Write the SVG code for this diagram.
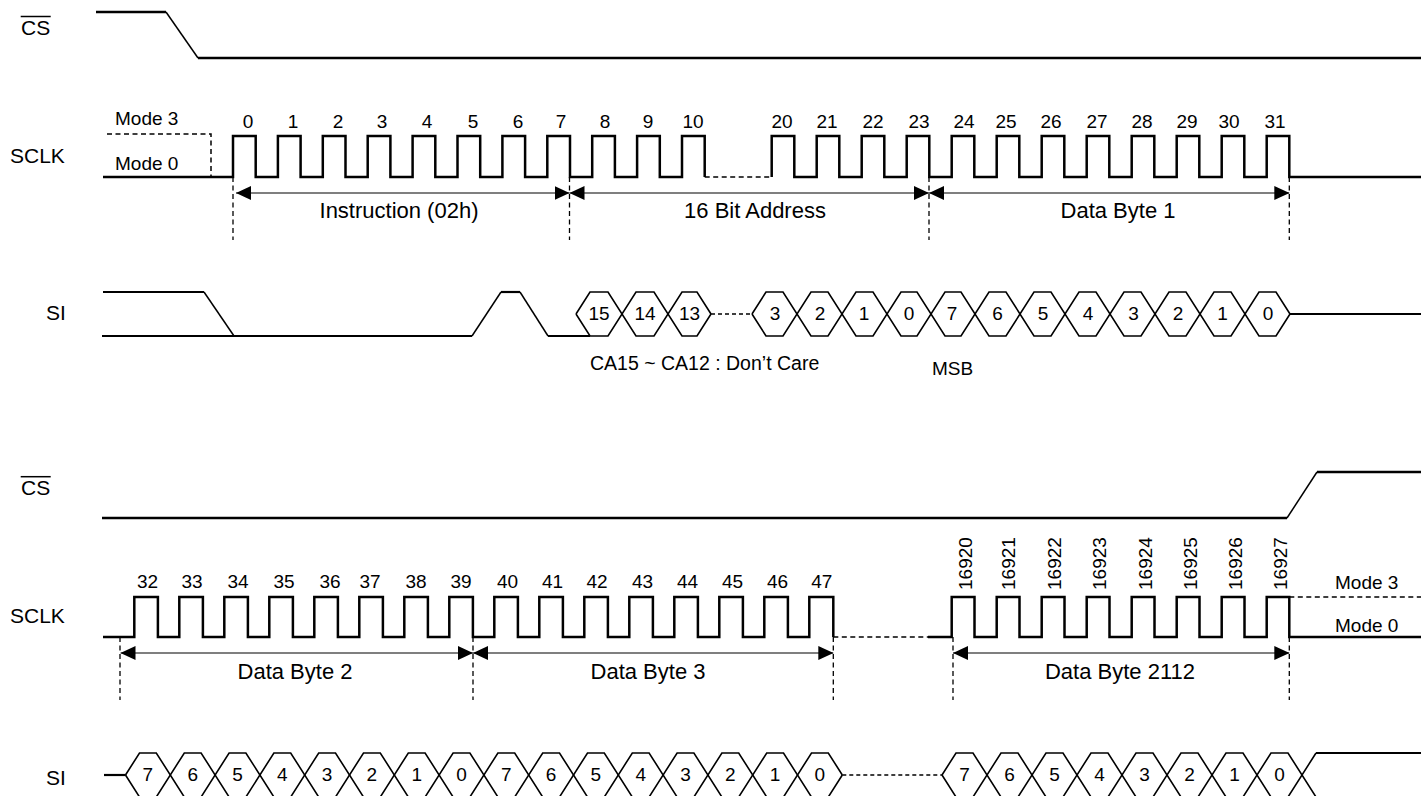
<svg xmlns="http://www.w3.org/2000/svg" width="1421" height="796" viewBox="0 0 1421 796">
<style>
text{font-family:"Liberation Sans",Arial,Helvetica,sans-serif;fill:#000}
.lbl{font-size:21px}
.big{font-size:22px;text-anchor:middle}
.num{font-size:19px;text-anchor:middle}
.md{font-size:19px}
.w{stroke:#000;stroke-width:2.5;fill:none}
.sl{stroke:#000;stroke-width:1.5;fill:none}
.hx{stroke:#000;stroke-width:1.6;fill:none}
.dv{stroke:#000;stroke-width:1.3;stroke-dasharray:5 3.5;fill:none}
.dh{stroke:#000;stroke-width:1.5;stroke-dasharray:5 3.5;fill:none}
.ds{stroke:#000;stroke-width:1.4;stroke-dasharray:4 3;fill:none}
.ov{stroke:#000;stroke-width:1.5}
.ar{stroke:#555;stroke-width:1.6;fill:none;marker-start:url(#ah);marker-end:url(#ah)}
</style>
<defs>
<marker id="ah" viewBox="0 0 15 14" refX="15" refY="7" markerWidth="15" markerHeight="14" markerUnits="userSpaceOnUse" orient="auto-start-reverse"><path d="M0,0 L15,7 L0,14 Z" fill="#000"/></marker>
</defs>

<!-- ===== TOP SECTION ===== -->
<g id="cs-top">
<text class="lbl" x="21" y="35">CS</text>
<line class="ov" x1="20.7" y1="16.5" x2="50.7" y2="16.5"/>
<path class="w" d="M96,12 H166"/>
<path class="sl" d="M166,12 L198,58"/>
<path class="w" d="M198,58 H1421"/>
</g>

<g id="sclk-top">
<text class="lbl" x="10" y="163">SCLK</text>
<text class="md" x="115" y="125">Mode 3</text>
<text class="md" x="115" y="170">Mode 0</text>
<path class="dh" d="M107,134 H211 V177"/>
<path class="w" d="M103,177 H233 V136 H255.7 V177 H277.9 V136 H300.6 V177 H322.8 V136 H345.5 V177 H367.7 V136 H390.4 V177 H412.6 V136 H435.3 V177 H457.5 V136 H480.2 V177 H502.4 V136 H525.1 V177 H547.3 V136 H570 V177 H592.2 V136 H614.9 V177 H637.1 V136 H659.8 V177 H682 V136 H704.7 V177"/>
<path class="dh" d="M704.7,177 H771.7"/>
<path class="w" d="M771.7,177 V136 H794.3 V177 H816.7 V136 H839.3 V177 H861.7 V136 H884.3 V177 H906.7 V136 H929.3 V177 H951.7 V136 H974.3 V177 H996.7 V136 H1019.3 V177 H1041.7 V136 H1064.3 V177 H1086.7 V136 H1109.3 V177 H1131.7 V136 H1154.3 V177 H1176.7 V136 H1199.3 V177 H1221.7 V136 H1244.3 V177 H1266.7 V136 H1289.3 V177 H1421"/>
<text class="num" x="248" y="128">0</text>
<text class="num" x="293" y="128">1</text>
<text class="num" x="338" y="128">2</text>
<text class="num" x="382" y="128">3</text>
<text class="num" x="427" y="128">4</text>
<text class="num" x="473" y="128">5</text>
<text class="num" x="518" y="128">6</text>
<text class="num" x="561" y="128">7</text>
<text class="num" x="605" y="128">8</text>
<text class="num" x="648" y="128">9</text>
<text class="num" x="693" y="128">10</text>
<text class="num" x="782" y="128">20</text>
<text class="num" x="827" y="128">21</text>
<text class="num" x="873" y="128">22</text>
<text class="num" x="919" y="128">23</text>
<text class="num" x="964" y="128">24</text>
<text class="num" x="1006" y="128">25</text>
<text class="num" x="1051" y="128">26</text>
<text class="num" x="1097" y="128">27</text>
<text class="num" x="1142" y="128">28</text>
<text class="num" x="1187" y="128">29</text>
<text class="num" x="1229" y="128">30</text>
<text class="num" x="1275" y="128">31</text>
</g>

<g id="si-top">
<text class="lbl" x="46" y="320">SI</text>
<path class="w" d="M103,292 H204" style="stroke-width:2.2"/>
<path class="sl" d="M204,292 L234,336"/>
<path class="w" d="M102,336 H472" style="stroke-width:2.2"/>
<path class="sl" d="M472,336 L501,292"/>
<path class="w" d="M501,292 H520" style="stroke-width:2.2"/>
<path class="sl" d="M520,292 L548,336"/>
<path class="w" d="M548,336 H590" style="stroke-width:2.2"/>
<path class="hx" d="M576,314 L590,292 H608 L636,336 H654 L682,292 H697 L711,314"/>
<path class="hx" d="M576,314 L590,336 H608 L636,292 H654 L682,336 H697 L711,314"/>
<path class="ds" d="M711,314 H752"/>
<path class="hx" d="M752,314 L766,292 H783 L811,336 H828 L856,292 H873 L901,336 H917 L945,292 H961 L989,336 H1006 L1034,292 H1051 L1079,336 H1096 L1124,292 H1141 L1169,336 H1186 L1214,292 H1231 L1259,336 H1276 L1290,314"/>
<path class="hx" d="M752,314 L766,336 H783 L811,292 H828 L856,336 H873 L901,292 H917 L945,336 H961 L989,292 H1006 L1034,336 H1051 L1079,292 H1096 L1124,336 H1141 L1169,292 H1186 L1214,336 H1231 L1259,292 H1276 L1290,314"/>
<path class="w" d="M1290,314 H1421" style="stroke-width:2.2"/>
<text class="num" x="599" y="320">15</text>
<text class="num" x="645" y="320">14</text>
<text class="num" x="689.5" y="320">13</text>
<text class="num" x="775" y="320">3</text>
<text class="num" x="820" y="320">2</text>
<text class="num" x="864" y="320">1</text>
<text class="num" x="909" y="320">0</text>
<text class="num" x="952" y="320">7</text>
<text class="num" x="997.5" y="320">6</text>
<text class="num" x="1043" y="320">5</text>
<text class="num" x="1088" y="320">4</text>
<text class="num" x="1133.5" y="320">3</text>
<text class="num" x="1178" y="320">2</text>
<text class="num" x="1222.5" y="320">1</text>
<text class="num" x="1268" y="320">0</text>
<text class="md" x="590" y="370" style="font-size:19.5px">CA15 ~ CA12 : Don’t Care</text>
<text class="md" x="932" y="375">MSB</text>
</g>

<!-- ===== BOTTOM SECTION ===== -->
<g id="cs-bottom">
<text class="lbl" x="21" y="495">CS</text>
<line class="ov" x1="20.7" y1="476.7" x2="50.7" y2="476.7"/>
<path class="w" d="M102,518 H1287"/>
<path class="sl" d="M1287,518 L1317,472"/>
<path class="w" d="M1317,472 H1421"/>
</g>

<g id="sclk-bottom">
<text class="lbl" x="10" y="623">SCLK</text>
<path class="w" d="M103,637 H134.3 V597 H157.9 V637 H179.3 V597 H202.9 V637 H224.3 V597 H247.9 V637 H269.3 V597 H292.9 V637 H314.3 V597 H337.9 V637 H359.3 V597 H382.9 V637 H404.3 V597 H427.9 V637 H449.3 V597 H472.9 V637 H494.3 V597 H517.9 V637 H539.3 V597 H562.9 V637 H584.3 V597 H607.9 V637 H629.3 V597 H652.9 V637 H674.3 V597 H697.9 V637 H719.3 V597 H742.9 V637 H764.3 V597 H787.9 V637 H809.3 V597 H833.3 V637"/>
<path class="dh" d="M833.3,637 H928"/>
<path class="w" d="M928,637 H951.7 V597 H974.5 V637 H996.7 V597 H1019.5 V637 H1041.7 V597 H1064.5 V637 H1086.7 V597 H1109.5 V637 H1131.7 V597 H1154.5 V637 H1176.7 V597 H1199.5 V637 H1221.7 V597 H1244.5 V637 H1266.7 V597 H1289.3 V637 H1421"/>
<path class="dh" d="M1289.3,597 H1421"/>
<text class="md" x="1335" y="589">Mode 3</text>
<text class="md" x="1335" y="632">Mode 0</text>
<text class="num" x="147.5" y="588">32</text>
<text class="num" x="192" y="588">33</text>
<text class="num" x="238" y="588">34</text>
<text class="num" x="284" y="588">35</text>
<text class="num" x="330" y="588">36</text>
<text class="num" x="370" y="588">37</text>
<text class="num" x="416" y="588">38</text>
<text class="num" x="461" y="588">39</text>
<text class="num" x="507.5" y="588">40</text>
<text class="num" x="552.5" y="588">41</text>
<text class="num" x="597" y="588">42</text>
<text class="num" x="642.5" y="588">43</text>
<text class="num" x="687.5" y="588">44</text>
<text class="num" x="732.5" y="588">45</text>
<text class="num" x="777.5" y="588">46</text>
<text class="num" x="821.7" y="588">47</text>
<text class="md" transform="translate(971.7,590) rotate(-90)">16920</text>
<text class="md" transform="translate(1015,590) rotate(-90)">16921</text>
<text class="md" transform="translate(1061,590) rotate(-90)">16922</text>
<text class="md" transform="translate(1106,590) rotate(-90)">16923</text>
<text class="md" transform="translate(1151.7,590) rotate(-90)">16924</text>
<text class="md" transform="translate(1196.7,590) rotate(-90)">16925</text>
<text class="md" transform="translate(1241.7,590) rotate(-90)">16926</text>
<text class="md" transform="translate(1286.7,590) rotate(-90)">16927</text>
</g>

<g id="si-bottom">
<text class="lbl" x="46" y="785">SI</text>
<path class="w" d="M104,775 H125.5" style="stroke-width:2.2"/>
<path class="hx" d="M125.5,775 L139.5,753 H156.3 L184.3,797 H201.1 L229.1,753 H245.9 L273.9,797 H290.7 L318.7,753 H335.5 L363.5,797 H380.3 L408.3,753 H425.1 L453.1,797 H469.9 L497.9,753 H514.7 L542.7,797 H559.5 L587.5,753 H604.3 L632.3,797 H649.1 L677.1,753 H693.9 L721.9,797 H738.7 L766.7,753 H783.5 L811.5,797 H828.3 L842.3,775"/>
<path class="hx" d="M125.5,775 L139.5,797 H156.3 L184.3,753 H201.1 L229.1,797 H245.9 L273.9,753 H290.7 L318.7,797 H335.5 L363.5,753 H380.3 L408.3,797 H425.1 L453.1,753 H469.9 L497.9,797 H514.7 L542.7,753 H559.5 L587.5,797 H604.3 L632.3,753 H649.1 L677.1,797 H693.9 L721.9,753 H738.7 L766.7,797 H783.5 L811.5,753 H828.3 L842.3,775"/>
<path class="ds" d="M842.3,775 H942"/>
<path class="hx" d="M942,775 L956,753 H973 L1001,797 H1018 L1046,753 H1063 L1091,797 H1108 L1136,753 H1153 L1181,797 H1198 L1226,753 H1243 L1271,797 H1288 L1316,753"/>
<path class="hx" d="M942,775 L956,797 H973 L1001,753 H1018 L1046,797 H1063 L1091,753 H1108 L1136,797 H1153 L1181,753 H1198 L1226,797 H1243 L1271,753 H1288 L1316,797 H1421"/>
<path class="w" d="M1316,753 H1421" style="stroke-width:2.2"/>
<text class="num" x="147.9" y="781">7</text>
<text class="num" x="192.7" y="781">6</text>
<text class="num" x="237.5" y="781">5</text>
<text class="num" x="282.3" y="781">4</text>
<text class="num" x="327.1" y="781">3</text>
<text class="num" x="371.9" y="781">2</text>
<text class="num" x="416.7" y="781">1</text>
<text class="num" x="461.5" y="781">0</text>
<text class="num" x="506.3" y="781">7</text>
<text class="num" x="551.1" y="781">6</text>
<text class="num" x="595.9" y="781">5</text>
<text class="num" x="640.7" y="781">4</text>
<text class="num" x="685.5" y="781">3</text>
<text class="num" x="730.3" y="781">2</text>
<text class="num" x="775.1" y="781">1</text>
<text class="num" x="819.9" y="781">0</text>
<text class="num" x="964.5" y="781">7</text>
<text class="num" x="1009.5" y="781">6</text>
<text class="num" x="1054.5" y="781">5</text>
<text class="num" x="1099.5" y="781">4</text>
<text class="num" x="1144.5" y="781">3</text>
<text class="num" x="1189.5" y="781">2</text>
<text class="num" x="1234.5" y="781">1</text>
<text class="num" x="1279.5" y="781">0</text>
</g>

<!-- ===== CONNECTORS (timing spans) ===== -->
<g id="connectors">
<path class="dv" d="M233,177 V240 M569.5,177 V240 M929,177 V240 M1289.3,177 V240"/>
<path class="dv" d="M120,637 V700 M473,637 V700 M833.3,637 V700 M953,637 V700 M1289.3,637 V700"/>
<line class="ar" x1="236" y1="193" x2="569.5" y2="193"/>
<line class="ar" x1="569.5" y1="193" x2="929" y2="193"/>
<line class="ar" x1="929" y1="193" x2="1289.3" y2="193"/>
<line class="ar" x1="120.5" y1="653" x2="473" y2="653"/>
<line class="ar" x1="473" y1="653" x2="833.3" y2="653"/>
<line class="ar" x1="953" y1="653" x2="1289.3" y2="653"/>
<text class="big" x="399" y="218">Instruction (02h)</text>
<text class="big" x="755" y="218">16 Bit Address</text>
<text class="big" x="1118" y="218">Data Byte 1</text>
<text class="big" x="295" y="679">Data Byte 2</text>
<text class="big" x="648" y="679">Data Byte 3</text>
<text class="big" x="1120" y="679">Data Byte 2112</text>
</g>
</svg>
